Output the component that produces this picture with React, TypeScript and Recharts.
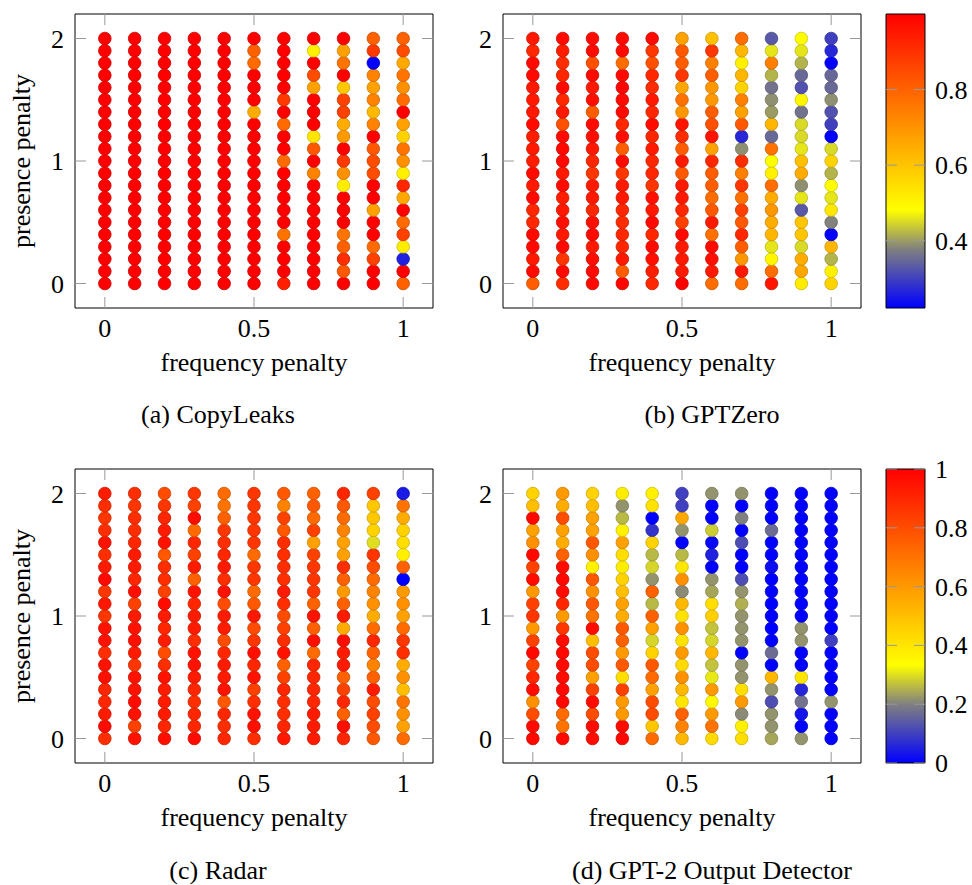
import {
  ComposedChart,
  ReferenceArea,
  ReferenceLine,
  Scatter,
  ScatterChart,
  XAxis,
  YAxis,
} from "recharts"

// grid of the sweep
const freqPenalty = [0, 0.1, 0.2, 0.3, 0.4, 0.5, 0.6, 0.7, 0.8, 0.9, 1]
// listed top -> bottom, same order as the columns below
const presencePenalty = [
  2, 1.9, 1.8, 1.7, 1.6, 1.5, 1.4, 1.3, 1.2, 1.1, 1, 0.9, 0.8, 0.7, 0.6, 0.5, 0.4, 0.3, 0.2, 0.1, 0,
]

// (a) CopyLeaks — one column per frequency penalty, presence 2 -> 0
const copyLeaks = [
  [1, 1, 1, 1, 1, 1, 1, 1, 1, 1, 1, 1, 1, 1, 1, 1, 1, 1, 1, 1, 1],
  [1, 1, 1, 1, 1, 1, 1, 1, 1, 1, 1, 1, 1, 1, 1, 1, 1, 1, 1, 1, 1],
  [1, 1, 1, 1, 1, 1, 1, 1, 1, 1, 1, 1, 1, 1, 1, 1, 1, 1, 1, 1, 1],
  [1, 1, 1, 1, 1, 1, 1, 1, 1, 1, 1, 1, 1, 1, 1, 1, 1, 1, 1, 1, 1],
  [1, 1, 1, 1, 1, 1, 1, 1, 1, 1, 1, 1, 1, 1, 1, 1, 1, 1, 1, 1, 1],
  [1, 0.75, 0.72, 1, 1, 1, 0.55, 1, 1, 1, 1, 1, 1, 1, 1, 1, 1, 1, 1, 1, 1],
  [1, 1, 1, 1, 1, 0.85, 1, 0.72, 1, 1, 0.72, 1, 1, 1, 1, 1, 0.7, 1, 1, 1, 0.92],
  [1, 0.37, 1, 0.8, 0.58, 1, 1, 1, 0.4, 0.77, 1, 0.66, 1, 1, 1, 1, 1, 1, 1, 1, 1],
  [1, 0.58, 0.7, 1, 0.48, 0.83, 0.83, 0.55, 0.6, 1, 0.85, 0.62, 0.38, 1, 1, 1, 0.7, 0.75, 0.88, 0.77, 1],
  [0.75, 0.85, 0, 0.66, 0.58, 0.66, 0.52, 0.66, 1, 0.77, 0.8, 0.8, 1, 1, 0.58, 1, 1, 0.72, 0.83, 1, 1],
  [0.75, 0.8, 0.56, 0.7, 0.62, 0.72, 1, 0.58, 0.45, 0.7, 0.62, 0.37, 0.9, 0.56, 1, 0.72, 0.83, 0.38, 0.05, 1, 0.75],
]

// (b) GPTZero
const gptZero = [
  [0.95, 0.92, 0.98, 0.98, 0.95, 0.95, 0.95, 0.98, 0.94, 0.95, 0.94, 0.98, 0.95, 0.98, 0.92, 0.92, 0.98, 0.98, 0.95, 0.98, 0.81],
  [0.98, 0.94, 0.91, 0.92, 0.98, 0.92, 0.95, 0.84, 0.98, 0.98, 0.98, 0.95, 0.98, 0.94, 0.95, 0.97, 0.95, 0.98, 0.89, 0.98, 0.91],
  [0.98, 0.98, 0.84, 0.98, 0.95, 0.97, 0.81, 0.98, 0.97, 0.95, 0.92, 0.89, 0.95, 0.95, 0.92, 0.97, 0.98, 0.95, 0.97, 0.98, 0.98],
  [0.98, 0.98, 0.78, 0.98, 0.99, 0.98, 0.98, 0.92, 0.97, 0.81, 0.98, 0.89, 0.95, 0.95, 0.92, 0.91, 0.92, 0.92, 0.95, 0.81, 0.99],
  [0.98, 0.89, 0.84, 0.92, 0.91, 0.95, 0.92, 0.98, 0.92, 0.95, 0.92, 0.92, 0.89, 0.97, 0.95, 0.98, 0.92, 0.98, 0.97, 0.94, 0.92],
  [0.67, 0.82, 0.81, 0.89, 0.66, 0.77, 0.69, 0.96, 0.91, 0.81, 0.95, 0.82, 0.95, 0.95, 0.92, 0.87, 0.98, 0.95, 0.95, 0.95, 1],
  [0.61, 0.89, 0.74, 0.81, 0.69, 0.69, 0.81, 0.84, 0.96, 0.67, 0.92, 0.81, 0.81, 0.78, 0.82, 0.95, 0.77, 0.98, 0.97, 0.95, 0.78],
  [0.78, 0.63, 0.51, 0.63, 0.57, 0.74, 0.67, 0.82, 0.27, 0.39, 0.91, 0.74, 0.89, 0.77, 0.87, 0.82, 0.92, 0.81, 0.69, 0.95, 0.78],
  [0.33, 0.46, 0.74, 0.42, 0.36, 0.39, 0.4, 0.63, 0.35, 0.77, 0.48, 0.51, 0.78, 0.65, 0.69, 0.65, 0.63, 0.46, 0.5, 0.78, 0.96],
  [0.49, 0.46, 0.42, 0.35, 0.32, 0.5, 0.36, 0.45, 0.45, 0.46, 0.61, 0.65, 0.39, 0.46, 0.33, 0.6, 0.6, 0.45, 0.65, 0.66, 0.52],
  [0.3, 0.27, 0.22, 0.35, 0.35, 0.39, 0.32, 0.3, 0.22, 0.45, 0.57, 0.42, 0.49, 0.46, 0.53, 0.38, 0.22, 0.63, 0.42, 0.51, 0.57],
]

// (c) Radar
const radar = [
  [0.93, 0.88, 0.86, 0.88, 0.95, 0.88, 0.93, 0.98, 0.86, 0.94, 0.86, 0.95, 0.95, 0.88, 0.95, 0.96, 0.9, 0.9, 0.93, 0.97, 0.88],
  [0.88, 0.86, 0.88, 0.88, 0.9, 0.93, 0.93, 0.9, 0.96, 0.83, 0.93, 0.95, 0.96, 0.93, 0.86, 0.95, 0.95, 0.97, 0.95, 0.83, 0.95],
  [0.8, 0.86, 0.9, 0.93, 0.95, 0.77, 0.88, 0.88, 0.83, 0.97, 0.93, 0.9, 0.93, 0.8, 0.88, 0.95, 0.93, 0.93, 0.93, 0.9, 0.96],
  [0.86, 0.83, 0.97, 0.72, 0.9, 0.83, 0.93, 0.75, 0.95, 0.9, 0.93, 0.93, 0.88, 0.95, 0.95, 0.93, 0.9, 0.88, 0.9, 0.9, 0.97],
  [0.72, 0.7, 0.75, 0.86, 0.88, 0.9, 0.93, 0.88, 0.95, 0.8, 0.93, 0.93, 0.8, 0.9, 0.93, 0.93, 0.95, 0.77, 0.9, 0.88, 0.9],
  [0.86, 0.86, 0.86, 0.86, 0.86, 0.72, 0.86, 0.86, 0.72, 0.77, 0.94, 0.8, 0.86, 0.96, 0.9, 0.95, 0.83, 0.88, 0.95, 0.96, 0.88],
  [0.77, 0.66, 0.83, 0.77, 0.88, 0.88, 0.88, 0.88, 0.93, 0.88, 0.8, 0.83, 0.88, 0.95, 0.75, 0.83, 0.9, 0.88, 0.88, 0.9, 0.94],
  [0.75, 0.77, 0.72, 0.83, 0.58, 0.83, 0.86, 0.86, 0.86, 0.75, 0.95, 0.75, 0.96, 0.72, 0.9, 0.9, 0.9, 0.9, 0.93, 0.93, 0.93],
  [0.9, 0.77, 0.72, 0.66, 0.58, 0.58, 0.88, 0.75, 0.6, 0.75, 0.93, 0.55, 0.97, 0.93, 0.93, 0.75, 0.83, 0.9, 0.75, 0.96, 0.9],
  [0.83, 0.48, 0.48, 0.45, 0.3, 0.86, 0.8, 0.72, 0.66, 0.62, 0.55, 0.72, 0.9, 0.75, 0.66, 0.75, 0.93, 0.8, 0.83, 0.8, 0.77],
  [0.04, 0.7, 0.55, 0.45, 0.42, 0.37, 0.75, 0, 0.6, 0.62, 0.58, 0.72, 0.86, 0.88, 0.55, 0.62, 0.5, 0.7, 0.62, 0.58, 0.72],
]

// (d) GPT-2 Output Detector
const gpt2Detector = [
  [0.45, 0.5, 0.98, 0.58, 0.62, 0.98, 0.83, 0.97, 0.6, 0.83, 0.86, 0.6, 0.83, 0.98, 0.83, 0.9, 0.97, 0.62, 0.8, 0.97, 0.98],
  [0.6, 0.55, 0.8, 0.58, 0.55, 0.75, 0.97, 0.98, 0.97, 0.9, 0.6, 0.86, 0.97, 0.98, 0.97, 0.97, 0.98, 0.98, 0.72, 0.7, 0.98],
  [0.45, 0.5, 0.58, 0.58, 0.77, 0.62, 0.37, 0.77, 0.62, 0.77, 0.7, 0.97, 0.5, 0.8, 0.8, 0.58, 0.83, 0.97, 0.8, 0.97, 0.97],
  [0.38, 0.22, 0.26, 0.37, 0.58, 0.42, 0.38, 0.45, 0.5, 0.58, 0.55, 0.77, 0.75, 0.6, 0.77, 0.42, 0.83, 0.6, 0.6, 0.97, 0.98],
  [0.37, 0.41, 0, 0.08, 0.45, 0.26, 0.29, 0.22, 0.75, 0.26, 0.75, 0.58, 0.29, 0.45, 0.77, 0.72, 0.58, 0.8, 0.8, 0.48, 0.72],
  [0.1, 0.1, 0.56, 0.22, 0, 0.26, 0.4, 0.62, 0.21, 0.52, 0.41, 0.62, 0.41, 0.6, 0.43, 0.62, 0.52, 0.4, 0.75, 0.66, 0.52],
  [0.22, 0, 0, 0.28, 0.01, 0.05, 0, 0.22, 0.24, 0.42, 0.46, 0.27, 0.29, 0.52, 0.27, 0.31, 0.6, 0.35, 0.6, 0.7, 0.43],
  [0.22, 0, 0.2, 0, 0.12, 0, 0, 0.12, 0.22, 0.25, 0.22, 0.22, 0.22, 0, 0.22, 0.22, 0.42, 0.6, 0.21, 0.37, 0.42],
  [0, 0, 0, 0.17, 0, 0, 0.02, 0, 0, 0, 0, 0, 0, 0.17, 0, 0.52, 0.22, 0.12, 0.22, 0.22, 0.24],
  [0, 0, 0, 0, 0, 0, 0, 0, 0, 0, 0, 0.22, 0.22, 0, 0, 0.4, 0.06, 0.18, 0.03, 0, 0.22],
  [0, 0, 0, 0, 0, 0, 0, 0, 0, 0, 0, 0, 0.1, 0, 0, 0, 0, 0.22, 0, 0, 0],
]

const xTicks = [0, 0.5, 1]
const yTicks = [0, 1, 2]
const cbTicksTop = [0.4, 0.6, 0.8]
const cbTicksBottom = [0, 0.2, 0.4, 0.6, 0.8, 1]
const rangeTop: [number, number] = [0.222, 1]
const rangeUnit: [number, number] = [0, 1]

// blue -> gray -> yellow -> red
const cmapStops: [number, number[]][] = [
  [0, [0, 0, 255]],
  [0.2, [128, 128, 128]],
  [1 / 3, [255, 255, 0]],
  [1, [255, 0, 0]],
]

function mapColor(t: number, dark = 1) {
  const c = Math.max(0, Math.min(1, t))
  for (let i = 1; i < cmapStops.length; i++) {
    const [p0, c0] = cmapStops[i - 1]
    const [p1, c1] = cmapStops[i]
    if (c <= p1) {
      const f = (c - p0) / (p1 - p0)
      const rgb = c0.map((v, k) => Math.round((v + (c1[k] - v) * f) * dark))
      return `rgb(${rgb.join(",")})`
    }
  }
  return `rgb(${Math.round(255 * dark)},0,0)`
}

const FONT = "'Liberation Serif', 'Times New Roman', serif"
const FS = 26
const TICK = "#999"

// chart-local plot box
const CW = 440
const CH = 360
const PL = 75
const PR = 433
const PT = 14
const PB = 308

const fmt = (v: number) => String(v)

function XTick(props: any) {
  const { x, payload } = props
  return (
    <g>
      <line x1={x} x2={x} y1={PB} y2={PB - 11} stroke={TICK} />
      <line x1={x} x2={x} y1={PT} y2={PT + 11} stroke={TICK} />
      <text x={x} y={PB + 29} textAnchor="middle" fontFamily={FONT} fontSize={FS} fill="#000">
        {fmt(payload.value)}
      </text>
    </g>
  )
}

function YTick(props: any) {
  const { y, payload } = props
  return (
    <g>
      <line x1={PL} x2={PL + 11} y1={y} y2={y} stroke={TICK} />
      <line x1={PR - 11} x2={PR} y1={y} y2={y} stroke={TICK} />
      <text x={PL - 11} y={y + 9} textAnchor="end" fontFamily={FONT} fontSize={FS} fill="#000">
        {fmt(payload.value)}
      </text>
    </g>
  )
}

function Label({ x, y, text, rotate }: { x: number; y: number; text: string; rotate?: boolean }) {
  return (
    <div
      style={{
        position: "absolute",
        left: x,
        top: y,
        transform: `translate(-50%, -50%)${rotate ? " rotate(-90deg)" : ""}`,
        fontFamily: FONT,
        fontSize: FS,
        lineHeight: 1,
        whiteSpace: "nowrap",
        color: "#000",
      }}
    >
      {text}
    </div>
  )
}

function Panel({
  cols,
  range,
  left,
  top,
}: {
  cols: number[][]
  range: [number, number]
  left: number
  top: number
}) {
  // draw bottom rows first so upper markers sit on top
  const points = freqPenalty.flatMap((fx, i) =>
    presencePenalty
      .map((py, j) => ({ x: fx, y: py, v: cols[i][j] }))
      .reverse()
  )
  const [lo, hi] = range
  const dot = (props: any) => {
    const t = (props.payload.v - lo) / (hi - lo)
    return (
      <circle
        cx={props.cx}
        cy={props.cy}
        r={6.3}
        fill={mapColor(t)}
        stroke={mapColor(t, 0.8)}
        strokeWidth={0.8}
      />
    )
  }
  return (
    <div style={{ position: "absolute", left, top }}>
      <ScatterChart width={CW} height={CH} margin={{ top: PT, right: CW - PR, bottom: 0, left: 0 }}>
        <XAxis
          type="number"
          dataKey="x"
          domain={[-0.1, 1.1]}
          allowDataOverflow
          ticks={xTicks}
          interval={0}
          height={CH - PB}
          axisLine={{ stroke: "#000" }}
          tickLine={false}
          tick={<XTick />}
        />
        <YAxis
          type="number"
          dataKey="y"
          domain={[-0.2, 2.2]}
          allowDataOverflow
          ticks={yTicks}
          interval={0}
          width={PL}
          axisLine={{ stroke: "#000" }}
          tickLine={false}
          tick={<YTick />}
        />
        <ReferenceLine y={2.2} stroke="#000" />
        <ReferenceLine x={1.1} stroke="#000" />
        <Scatter data={points} isAnimationActive={false} shape={dot} />
      </ScatterChart>
    </div>
  )
}

function Colorbar({
  left,
  top,
  range,
  ticks,
  id,
}: {
  left: number
  top: number
  range: [number, number]
  ticks: number[]
  id: string
}) {
  const BL = 6
  const BR = 45
  const CbTick = (props: any) => {
    const { y, payload } = props
    return (
      <g>
        <line x1={BL} x2={BL + 11} y1={y} y2={y} stroke={TICK} />
        <line x1={BR - 11} x2={BR} y1={y} y2={y} stroke={TICK} />
        <text x={BR + 10} y={y + 9} textAnchor="start" fontFamily={FONT} fontSize={FS} fill="#000">
          {fmt(payload.value)}
        </text>
      </g>
    )
  }
  return (
    <div style={{ position: "absolute", left, top }}>
      <ComposedChart width={92} height={330} margin={{ top: 14, right: 0, bottom: 330 - PB, left: BL }}>
        <defs>
          <linearGradient id={id} x1="0" y1="1" x2="0" y2="0">
            {cmapStops.map(([p, c]) => (
              <stop key={p} offset={p} stopColor={`rgb(${c.join(",")})`} />
            ))}
          </linearGradient>
        </defs>
        <XAxis type="number" dataKey="x" domain={[0, 1]} allowDataOverflow hide />
        <YAxis
          type="number"
          orientation="right"
          domain={range}
          allowDataOverflow
          ticks={ticks}
          interval={0}
          width={92 - BR}
          axisLine={false}
          tickLine={false}
          tick={<CbTick />}
        />
        <ReferenceArea
          x1={0}
          x2={1}
          y1={range[0]}
          y2={range[1]}
          fill={`url(#${id})`}
          fillOpacity={1}
          stroke="#000"
          strokeWidth={1}
        />
      </ComposedChart>
    </div>
  )
}

export default function App() {
  return (
    <div style={{ position: "absolute", left: 0, top: 0, width: 972, height: 885, background: "#fff" }}>
      <Panel cols={copyLeaks} range={rangeUnit} left={0} top={0} />
      <Panel cols={gptZero} range={rangeTop} left={428} top={0} />
      <Panel cols={radar} range={rangeUnit} left={0} top={455} />
      <Panel cols={gpt2Detector} range={rangeUnit} left={428} top={455} />
      <Colorbar left={880} top={0} range={rangeTop} ticks={cbTicksTop} id="cbTop" />
      <Colorbar left={880} top={455} range={rangeUnit} ticks={cbTicksBottom} id="cbBottom" />

      <Label x={22} y={161} text="presence penalty" rotate />
      <Label x={22} y={616} text="presence penalty" rotate />
      <Label x={254} y={363} text="frequency penalty" />
      <Label x={682} y={363} text="frequency penalty" />
      <Label x={254} y={818} text="frequency penalty" />
      <Label x={682} y={818} text="frequency penalty" />
      <Label x={218} y={415} text="(a) CopyLeaks" />
      <Label x={712} y={415} text="(b) GPTZero" />
      <Label x={218} y={871} text="(c) Radar" />
      <Label x={712} y={871} text="(d) GPT-2 Output Detector" />
    </div>
  )
}
